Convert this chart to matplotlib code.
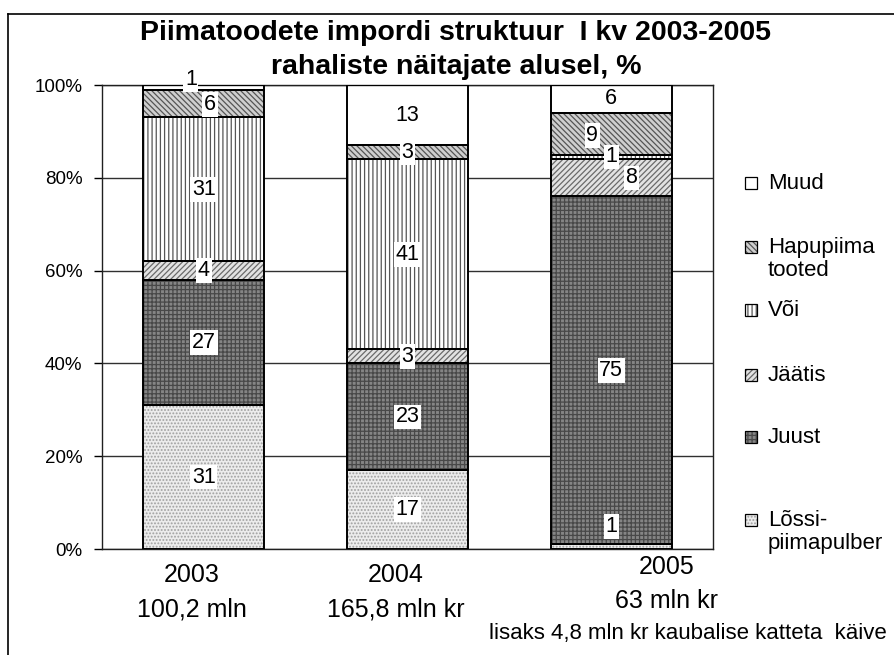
import numpy as np
import matplotlib.pyplot as plt
from matplotlib.patches import Rectangle
from matplotlib.lines import Line2D

plt.rcParams['font.family'] = ['Liberation Sans', 'DejaVu Sans']
plt.rcParams['hatch.linewidth'] = 0.9

# data (percent shares)
years = ['2003', '2004', '2005']
totals = ['100,2 mln', '165,8 mln kr', '63 mln kr']
series = ['Lõssi-\npiimapulber', 'Juust', 'Jäätis', 'Või', 'Hapupiima\ntooted', 'Muud']
lossi = [31, 17, 1]
juust = [27, 23, 75]
jaatis = [4, 3, 8]
voi = [31, 41, 1]
hapupiima = [6, 3, 9]
muud = [1, 13, 6]
values = [lossi, juust, jaatis, voi, hapupiima, muud]

# styles: facecolor, hatch, hatch colour
styles = [('#ececec', '.....', '#a0a0a0'),
          ('#858585', '++++', '#484848'),
          ('#e2e2e2', '//////', '#6a6a6a'),
          ('#ffffff', '||||', '#555555'),
          ('#cfcfcf', '\\\\\\\\\\\\', '#555555'),
          ('#ffffff', '', '#000000')]

# label offsets in pixels (dx, dy) for crowded segments
offsets = {(5, 0): (-13, 8), (4, 0): (6, -1), (0, 2): (0, 20),
           (4, 2): (-19, -2), (2, 2): (20, 0)}

fig = plt.figure(figsize=(8.95, 6.55), dpi=100)
ax = fig.add_axes([102/895, 106/655, 611/895, 464/655])

x = np.arange(len(years))
w = 0.594
bottom = np.zeros(len(years))
for i, vals in enumerate(values):
    fc, h, hc = styles[i]
    ax.bar(x, vals, w, bottom=bottom, color=fc, hatch=h, edgecolor=hc,
           linewidth=0, zorder=2)
    ax.bar(x, vals, w, bottom=bottom, fill=False, edgecolor='black',
           linewidth=1.4, zorder=3)
    for j, v in enumerate(vals):
        dx, dy = offsets.get((i, j), (0, 0))
        ax.annotate(str(v), (x[j], bottom[j] + v / 2), xytext=(dx, dy),
                    textcoords='offset pixels', ha='center', va='center',
                    fontsize=15.5, zorder=5,
                    bbox=dict(boxstyle='square,pad=0.08', fc='white', ec='none'))
    bottom += np.array(vals)

ax.set_xlim(-0.5, 2.5)
ax.set_ylim(0, 100)
ax.set_yticks(range(0, 101, 20))
ax.set_yticklabels([f'{t}%' for t in range(0, 101, 20)], fontsize=13.5)
ax.tick_params(axis='y', length=6, width=1, direction='out', pad=8)
ax.set_xticks([])
ax.grid(axis='y', color='#303030', linewidth=1, zorder=0)
for s in ax.spines.values():
    s.set_linewidth(1)
    s.set_color('#202020')

# category labels
lab_off = [(-12, 0), (-12, 0), (55, 8)]
for j in range(len(years)):
    ax.annotate(years[j] + '\n' + totals[j], (x[j], 0),
                xycoords=('data', 'axes fraction'),
                xytext=(lab_off[j][0], -14 + lab_off[j][1]),
                textcoords='offset pixels', ha='center', va='top',
                fontsize=18, linespacing=1.55, multialignment='center')

fig.text(456/895, 1 - 33/655, 'Piimatoodete impordi struktuur  I kv 2003-2005',
         ha='center', va='center', fontsize=20.5, fontweight='bold')
fig.text(456/895, 1 - 67/655, 'rahaliste näitajate alusel, %',
         ha='center', va='center', fontsize=20.5, fontweight='bold')

fig.text(887/895, 1 - 633/655, 'lisaks 4,8 mln kr kaubalise katteta  käive',
         ha='right', va='center', fontsize=16)

# legend drawn by hand
leg_y = [520, 437, 375, 310, 247, 183]
for i, name in enumerate(series):
    fc, h, hc = styles[i]
    yc = 1 - leg_y[i] / 655
    fig.patches.append(Rectangle((745/895, yc - 6/655), 12/895, 12/655,
                                 transform=fig.transFigure, facecolor=fc,
                                 hatch=h, edgecolor=hc, linewidth=0))
    fig.patches.append(Rectangle((745/895, yc - 6/655), 12/895, 12/655,
                                 transform=fig.transFigure, fill=False,
                                 edgecolor='black', linewidth=0.9))
    fig.text(768/895, yc + 10/655, name, ha='left', va='top', fontsize=16,
             linespacing=1.15)

# outer frame (left and top)
fig.add_artist(Line2D([8/895, 8/895], [0, 1 - 14/655], transform=fig.transFigure,
                      color='black', linewidth=1.2))
fig.add_artist(Line2D([8/895, 1], [1 - 14/655, 1 - 14/655], transform=fig.transFigure,
                      color='black', linewidth=1.2))

fig.savefig('out.png', dpi=100)
